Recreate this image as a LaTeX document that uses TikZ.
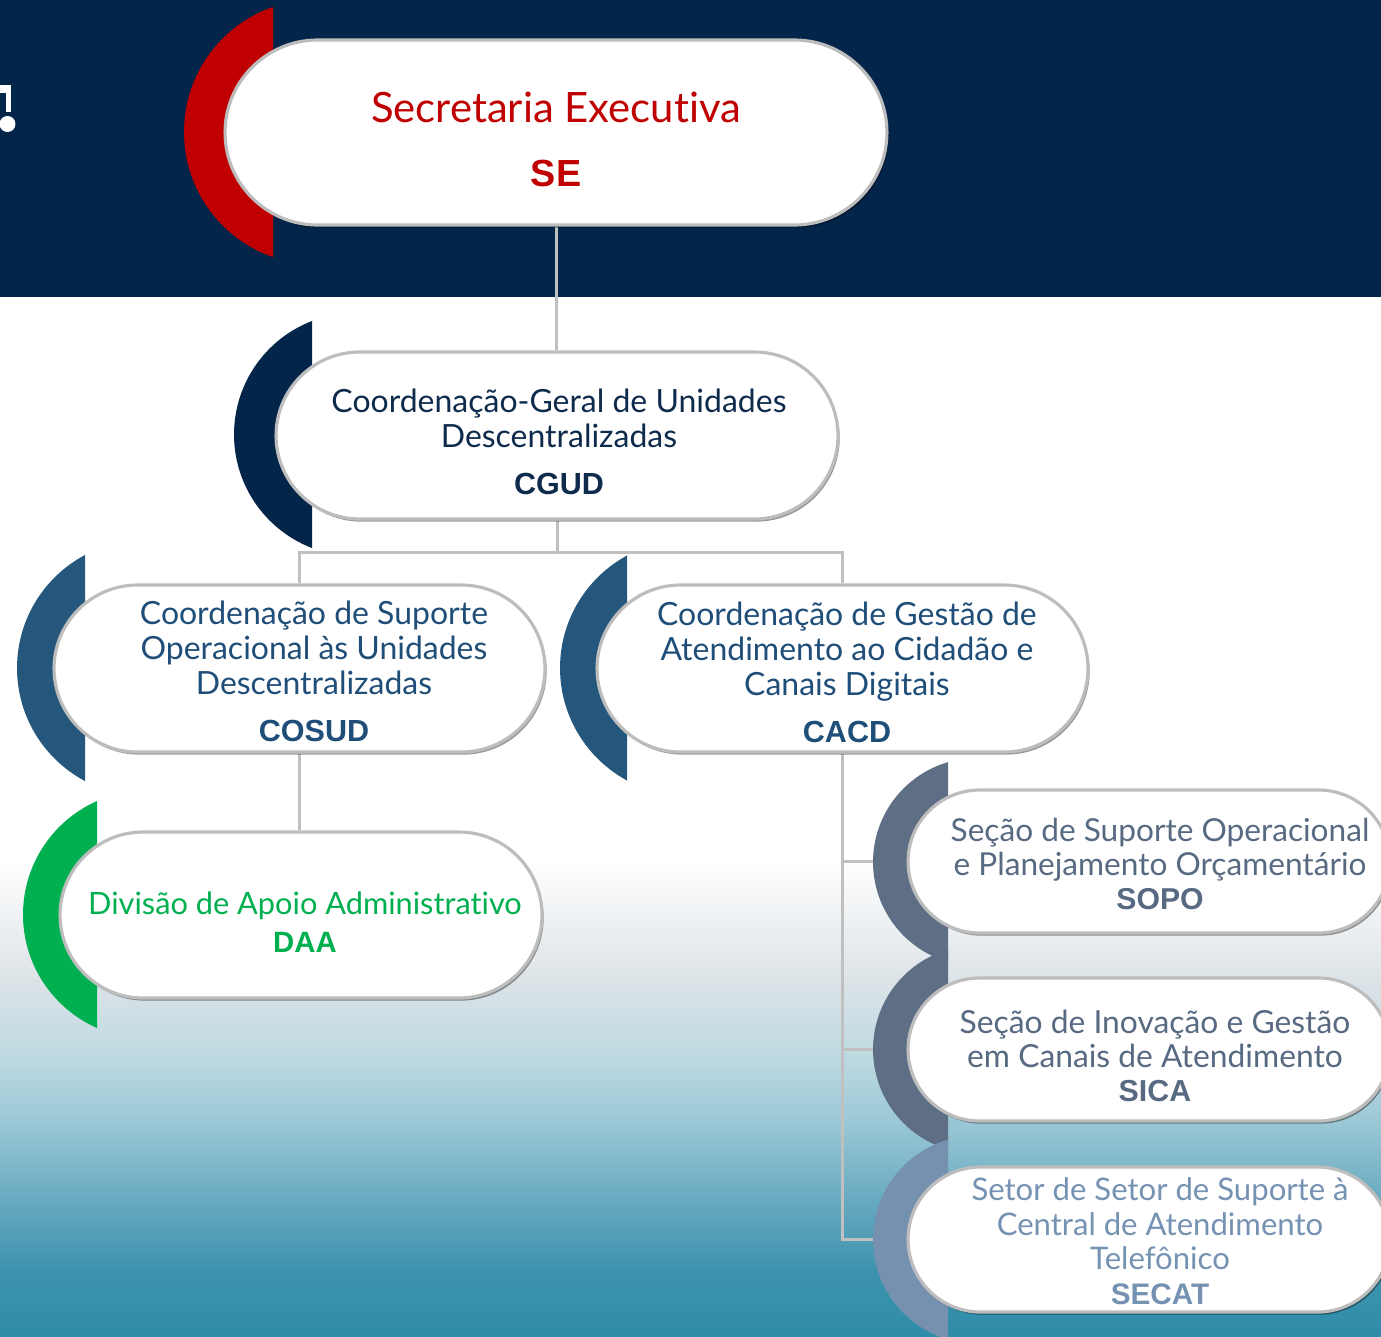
\documentclass[tikz,border=0pt]{standalone}
\usepackage{fontspec}
\setmainfont{Lato}[Ligatures={NoCommon,NoRare}]
\newfontfamily\acrofont{Liberation Sans}[Scale=0.955]
\usetikzlibrary{shapes.misc,shadows}
\pgfdeclarelayer{bgfill}
\pgfdeclarelayer{lines}
\pgfsetlayers{bgfill,lines,main}
\definecolor{navy}{HTML}{03254A}
\definecolor{sered}{HTML}{C00000}
\definecolor{cgudtxt}{HTML}{0E2B4C}
\definecolor{midblue}{HTML}{25577D}
\definecolor{midtxt}{HTML}{1F4E79}
\definecolor{dagreen}{HTML}{00B050}
\definecolor{slate}{HTML}{5E6E85}
\definecolor{slatetxt}{HTML}{586A82}
\definecolor{lslate}{HTML}{7691B0}
\definecolor{lslatetxt}{HTML}{7592B3}
\definecolor{linegray}{HTML}{C0C0C0}
\definecolor{ga}{HTML}{EEF1F3}
\definecolor{gb}{HTML}{DCE3E7}
\definecolor{gc}{HTML}{BCD9E1}
\definecolor{gd}{HTML}{9CC8D6}
\definecolor{ge}{HTML}{68AAC0}
\definecolor{gf}{HTML}{3D93AF}
\definecolor{gg}{HTML}{2F8CA9}
\pgfdeclareverticalshading{bgshade}{100bp}{color(0bp)=(gg); color(25bp)=(gg); color(28.18bp)=(gf); color(31.54bp)=(ge); color(35.39bp)=(gd); color(38.28bp)=(gc); color(42.13bp)=(gb); color(45.02bp)=(ga); color(47.91bp)=(white); color(100bp)=(white)}
\newcommand\halfmoon[5]{%
  \begin{scope}
    \clip (#4-400,#2-400) rectangle (#4,#2+400);
    \fill[#5] (#1,#2) circle[radius=#3cm];
  \end{scope}}
\newcommand\acro[1]{{\acrofont\bfseries #1}}
\tikzset{
  pill/.style={shape=rounded rectangle, fill=white, draw=black!26, line width=1.8pt,
    inner sep=0pt, drop shadow={shadow xshift=1pt, shadow yshift=-1.5pt, opacity=0.4, fill=black}},
  conn/.style={draw=linegray, line width=1.7pt},
  txt/.style={align=center, inner sep=0pt},
}
\begin{document}
\begin{tikzpicture}[x=0.02cm,y=-0.02cm]
\useasboundingbox (0,0) rectangle (1381,1336);
\begin{pgfonlayer}{bgfill}
\shade[shading=bgshade] (0,296) rectangle (1381,1336);
\fill[navy] (0,0) rectangle (1381,297);
\end{pgfonlayer}
% cut-off glyph at the left edge
\fill[white] (0,85) rectangle (10.5,93);
\fill[white] (6,85) rectangle (10.5,112);
\fill[white] (7.5,124) circle[radius=0.16cm];

% coloured half-moons
\halfmoon{316.3}{132}{2.646}{273}{sered}
\halfmoon{355.6}{434.5}{2.432}{312}{navy}
\halfmoon{144.9}{668}{2.558}{85}{midblue}
\halfmoon{687.9}{668}{2.558}{627}{midblue}
\halfmoon{147}{914.5}{2.48}{97}{dagreen}
\halfmoon{977}{862}{2.08}{948}{slate}
\halfmoon{977}{1049.5}{2.08}{948}{slate}
\halfmoon{977}{1239.5}{2.08}{948}{lslate}

% pills
\node[pill, minimum width=13.24cm, minimum height=3.7cm] (se) at (556,132.5) {};
\node[pill, minimum width=11.24cm, minimum height=3.34cm] (cgud) at (557,435.5) {};
\node[pill, minimum width=9.82cm, minimum height=3.34cm] (cosud) at (299.5,668.5) {};
\node[pill, minimum width=9.82cm, minimum height=3.34cm] (cacd) at (842.5,668.5) {};
\node[pill, minimum width=9.64cm, minimum height=3.32cm] (daa) at (301,915) {};
\node[pill, minimum width=9.64cm, minimum height=2.86cm] (sopo) at (1149,861.5) {};
\node[pill, minimum width=9.64cm, minimum height=2.86cm] (sica) at (1149,1049.5) {};
\node[pill, minimum width=9.64cm, minimum height=2.9cm] (secat) at (1149,1239.5) {};

% connectors
\begin{pgfonlayer}{lines}
\coordinate (bus) at (557,552);
\draw[conn] (se.south) -- (se.south |- cgud.north);
\draw[conn] (cgud.south) -- (bus);
\draw[conn] (cosud.north) |- (bus);
\draw[conn] (cacd.north) |- (bus);
\draw[conn] (cosud.south) -- (cosud.south |- daa.north);
\draw[conn] (cacd.south) |- (sopo.west);
\draw[conn] (cacd.south) |- (sica.west);
\draw[conn] (cacd.south) |- (secat.west);
\end{pgfonlayer}

% texts
\node[txt, text=sered, font={\fontsize{23.8}{36.4}\selectfont}] (se-t) at (556,139)
  {Secretaria Executiva\\{\fontsize{22.5}{36.4}\selectfont\acro{SE}}};
\node[txt, text=cgudtxt, font={\fontsize{18.2}{19.9}\selectfont}] (cgud-t) at (559,442)
  {Coordenação-Geral de Unidades\\Descentralizadas\\[6.8pt]\acro{CGUD}};
\node[txt, text=midtxt, font={\fontsize{18.2}{19.9}\selectfont}] (cosud-t) at (314,671.5)
  {Coordenação de Suporte\\Operacional às Unidades\\Descentralizadas\\[6.8pt]\acro{COSUD}};
\node[txt, text=midtxt, font={\fontsize{18.2}{19.9}\selectfont}] (cacd-t) at (847,672)
  {Coordenação de Gestão de\\Atendimento ao Cidadão e\\Canais Digitais\\[6.8pt]\acro{CACD}};
\node[txt, text=dagreen, font={\fontsize{17.5}{21.6}\selectfont}] (daa-t) at (305,922)
  {Divisão de Apoio Administrativo\\\acro{DAA}};
\node[txt, text=slatetxt, font={\fontsize{18}{19.4}\selectfont}] (sopo-t) at (1160,864)
  {Seção de Suporte Operacional\\e Planejamento Orçamentário\\\acro{SOPO}};
\node[txt, text=slatetxt, font={\fontsize{18.1}{19.4}\selectfont}] (sica-t) at (1155,1056)
  {Seção de Inovação e Gestão\\em Canais de Atendimento\\\acro{SICA}};
\node[txt, text=lslatetxt, font={\fontsize{17.7}{19.7}\selectfont}] (secat-t) at (1160,1241)
  {Setor de Setor de Suporte à\\Central de Atendimento\\Telefônico\\\acro{SECAT}};
\end{tikzpicture}
\end{document}
